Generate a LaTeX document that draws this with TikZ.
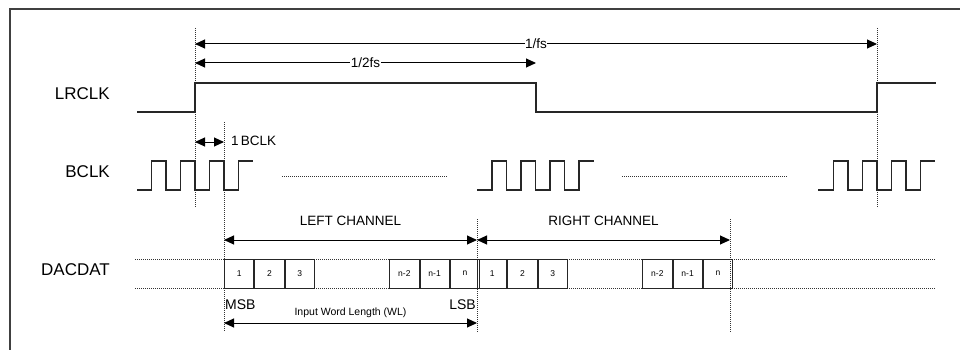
\documentclass[tikz,border=0pt]{standalone}
\usepackage{fontspec}
\setmainfont{Liberation Sans}
\usetikzlibrary{arrows.meta}
\begin{document}
\begin{tikzpicture}[x=1pt,y=-1pt,
  sig/.style={line width=1.1pt,color=black!85},
  dots/.style={line width=0.8pt,color=black!80,dash pattern=on 1pt off 1pt},
  dim/.style={line width=1pt,color=black,{Triangle[length=10pt,width=9pt]}-{Triangle[length=10pt,width=9pt]}},
  cell/.style={draw=black!85,line width=1pt,minimum width=29.25pt,minimum height=29pt,inner sep=0pt,anchor=west,font=\fontsize{8.5}{10}\selectfont},
  siglabel/.style={anchor=east,font=\fontsize{17}{20}\selectfont,inner sep=0pt},
  lbl/.style={font=\fontsize{13.5}{16}\selectfont,inner sep=1pt}]
\useasboundingbox (0,0) rectangle (960,350);
% frame
\draw[line width=1.2pt,color=black!75] (10,350) -- (10,9) -- (960,9);

% signal names
\node[siglabel] (lr) at (110,94) {LRCLK};
\node[siglabel] (bc) at (110,172) {BCLK};
\node[siglabel] (dd) at (110,270) {DACDAT};

% key coordinates
\coordinate (t0top) at (195,28);
\coordinate (t0bot) at (195,208);
\coordinate (t1top) at (877,28);
\coordinate (t1bot) at (877,208);
\coordinate (b1top) at (224,122);
\coordinate (b1bot) at (224,332);
\coordinate (lsbtop) at (477,219);
\coordinate (lsbbot) at (477,332);
\coordinate (rctop) at (730,219);
\coordinate (rcbot) at (730,332);

% dotted verticals
\draw[dots] (t0top) -- (t0bot);
\draw[dots] (t1top) -- (t1bot);
\draw[dots] (b1top) -- (b1bot);
\draw[dots] (lsbtop) -- (lsbbot);
\draw[dots] (rctop) -- (rcbot);

% LRCLK
\draw[sig] (137,112) -| (195,83) -| (536,112) -| (877,83) -- (936,83);

% BCLK
\draw[sig] (137,190) -| (151.5,161) -| (166,190) -| (180.5,161) -| (195,190) -| (209.5,161) -| (224,190) -| (238.5,161) -- (253,161);
\draw[sig] (477,190) -| (492,161) -| (506.5,190) -| (521,161) -| (535.5,190) -| (550,161) -| (564.5,190) -| (579,161) -- (594,161);
\draw[sig] (818,190) -| (833.5,161) -| (848,190) -| (862.5,161) -| (877,190) -| (891.5,161) -| (906,190) -| (920.5,161) -- (935,161);
\draw[dots] (282,176) -- (447,176);
\draw[dots] (622,176) -- (787,176);

% timing arrows
\coordinate (fsA) at (195,44);
\coordinate (fsB) at (877,44);
\draw[dim,-{Triangle[length=10pt,width=9pt]}, {Triangle[length=10pt,width=9pt]}-{Triangle[length=10pt,width=9pt]}] (fsA) -- (fsB)
  node[pos=0.5,fill=white,lbl,inner sep=0.5pt] (fs) {1/fs};
\coordinate (hfA) at (195,63);
\coordinate (hfB) at (536,63);
\draw[dim] (hfA) -- (hfB) node[pos=0.5,fill=white,lbl,inner sep=0.5pt] (hfs) {1/2fs};
\coordinate (bkA) at (195,142);
\coordinate (bkB) at (224,142);
\draw[dim] (bkA) -- (bkB);
\node[lbl,anchor=west,inner sep=0pt] (bk) at (231,141) {1\,BCLK};

% DACDAT dotted rails
\foreach \y in {259,288} {
  \draw[dots] (135,\y) -- (224,\y);
  \draw[dots] (312,\y) -- (389,\y);
  \draw[dots] (565,\y) -- (643,\y);
  \draw[dots] (730,\y) -- (935,\y);
}
% cells
\node[cell] (l1) at (224,273.5) {1};
\node[cell] (l2) at (l1.east) {2};
\node[cell] (l3) at (l2.east) {3};
\node[cell] (ln2) at (389.25,273.5) {n-2};
\node[cell] (ln1) at (ln2.east) {n-1};
\node[cell] (ln) at (ln1.east) {n};
\node[cell] (r1) at (477,273.5) {1};
\node[cell] (r2) at (r1.east) {2};
\node[cell] (r3) at (r2.east) {3};
\node[cell] (rn2) at (642.25,273.5) {n-2};
\node[cell] (rn1) at (rn2.east) {n-1};
\node[cell] (rn) at (rn1.east) {n};

% channel arrows
\coordinate (lcA) at (224,240);
\coordinate (lcB) at (477,240);
\coordinate (rcA) at (477,240);
\coordinate (rcB) at (730,240);
\draw[dim] (lcA) -- (lcB);
\draw[dim] (rcA) -- (rcB);
\node[lbl] (lc) at (350.5,221) {LEFT CHANNEL};
\node[lbl] (rc) at (603.5,221) {RIGHT CHANNEL};

% MSB / LSB / WL
\node[lbl,anchor=west,inner sep=0pt,font=\fontsize{14}{16}\selectfont] (msb) at (225,305) {MSB};
\node[lbl,anchor=east,inner sep=0pt,font=\fontsize{14}{16}\selectfont] (lsb) at (476,305) {LSB};
\coordinate (wlA) at (224,323);
\coordinate (wlB) at (477,323);
\draw[dim] (wlA) -- (wlB);
\node[inner sep=0pt,font=\fontsize{10.5}{12}\selectfont] (wl) at (350.5,313) {Input Word Length (WL)};
\end{tikzpicture}
\end{document}
